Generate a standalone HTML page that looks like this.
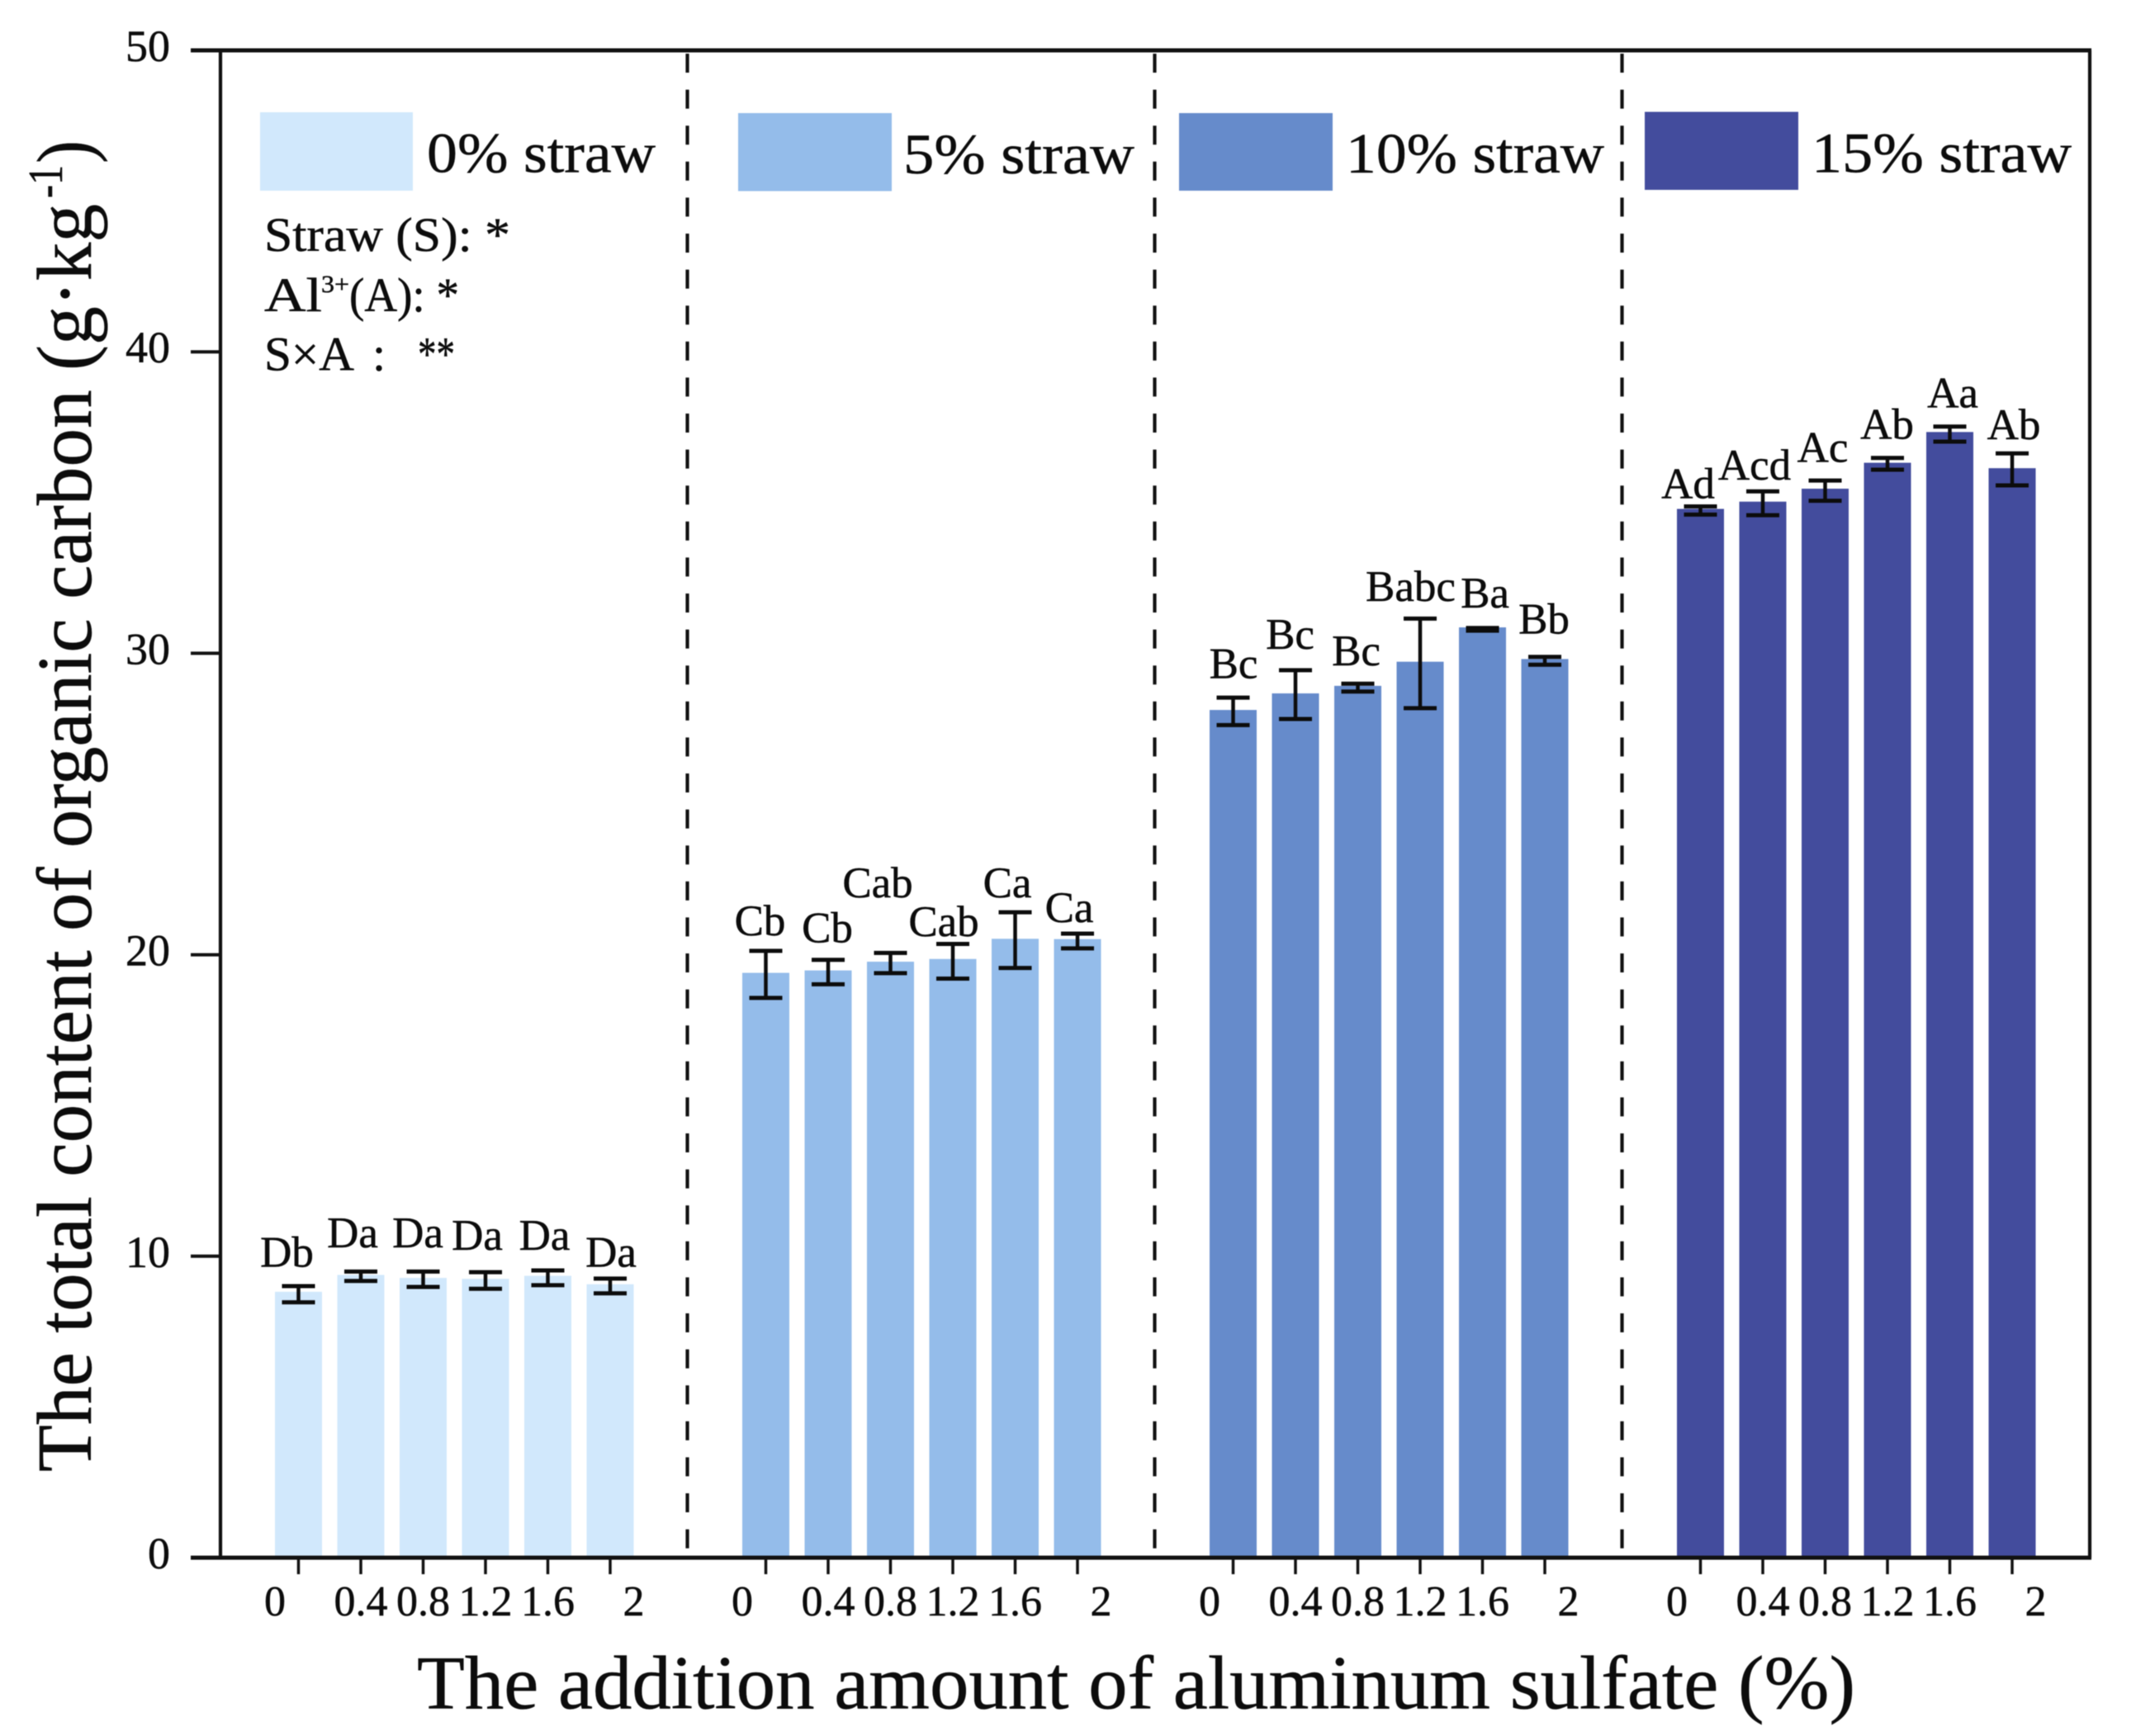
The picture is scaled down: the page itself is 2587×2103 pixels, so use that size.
<!DOCTYPE html>
<html lang="en">
<head>
<meta charset="utf-8">
<title>Total organic carbon by straw and aluminum sulfate addition</title>
<style>
html,body{margin:0;padding:0;background:#fff}
svg{display:block;filter:blur(0.6px)}
text{font-family:"Liberation Serif",serif;fill:#0c0c0c;stroke:#0c0c0c;stroke-width:.5px}
</style>
</head>
<body>
<svg id="chart" xmlns="http://www.w3.org/2000/svg" width="2587" height="2103" viewBox="0 0 2587 2103">
  <rect x="0" y="0" width="2587" height="2103" fill="#fff"/>
  <g id="bars"></g>
  <g id="errors"></g>
  <g id="dividers"></g>
  <g id="axes"></g>
  <g id="labels"></g>

  <g>
    <g>
      <rect x="315" y="136" width="185" height="95" fill="#D1E8FC"/>
      <text x="517" y="208.5" font-size="69" textLength="277" lengthAdjust="spacingAndGlyphs">0% straw</text>
    </g>
    <g>
      <rect x="894" y="137" width="186" height="94.5" fill="#94BCEA"/>
      <text x="1094" y="210" font-size="69" textLength="280" lengthAdjust="spacingAndGlyphs">5% straw</text>
    </g>
    <g>
      <rect x="1428" y="137" width="186" height="94" fill="#668BCB"/>
      <text x="1630" y="209" font-size="69" textLength="313" lengthAdjust="spacingAndGlyphs">10% straw</text>
    </g>
    <g>
      <rect x="1992" y="135.5" width="186" height="94.5" fill="#434C9D"/>
      <text x="2194" y="208.5" font-size="69" textLength="315" lengthAdjust="spacingAndGlyphs">15% straw</text>
    </g>
  </g>

  <g>
    <text x="320" y="304" font-size="58" textLength="298" lengthAdjust="spacingAndGlyphs">Straw (S): *</text>
    <text x="320" y="377" font-size="58" textLength="70" lengthAdjust="spacingAndGlyphs">Al</text>
    <text x="389" y="354" font-size="30" textLength="34" lengthAdjust="spacingAndGlyphs">3+</text>
    <text x="423" y="377" font-size="58" textLength="133" lengthAdjust="spacingAndGlyphs">(A): *</text>
    <text x="320" y="448.5" font-size="58" textLength="109" lengthAdjust="spacingAndGlyphs">S×A</text>
    <text x="451" y="448.5" font-size="58">:</text>
    <text x="506" y="448.5" font-size="58" textLength="45" lengthAdjust="spacingAndGlyphs">**</text>
  </g>

  <g>
    <text transform="translate(110 1783) rotate(-90)" font-size="94" textLength="1536" lengthAdjust="spacingAndGlyphs">The total content of organic carbon (g·kg</text>
    <text transform="translate(75 240) rotate(-90)" font-size="59" textLength="40" lengthAdjust="spacingAndGlyphs">-1</text>
    <text transform="translate(110 198) rotate(-90)" font-size="94" textLength="28" lengthAdjust="spacingAndGlyphs">)</text>
  </g>
  <text x="505" y="2069.5" font-size="92" textLength="1742" lengthAdjust="spacingAndGlyphs">The addition amount of aluminum sulfate (%)</text>
</svg>

<script>
// ---- chart data ----
const doseCategories = ['0', '0.4', '0.8', '1.2', '1.6', '2'];
const strawGroups = ['0-straw', '5-straw', '10-straw', '15-straw'];
const yTickValues = [0, 10, 20, 30, 40, 50];

const meanStraw0 = [8.82, 9.38, 9.28, 9.25, 9.35, 9.07];
const meanStraw5 = [19.40, 19.48, 19.77, 19.86, 20.53, 20.52];
const meanStraw10 = [28.12, 28.67, 28.92, 29.72, 30.86, 29.81];
const meanStraw15 = [34.79, 35.03, 35.46, 36.32, 37.34, 36.14];

const upperStraw0 = [9.01, 9.49, 9.49, 9.47, 9.53, 9.26];
const upperStraw5 = [20.13, 19.83, 20.06, 20.36, 21.41, 20.70];
const upperStraw10 = [28.53, 29.44, 28.99, 31.15, 30.84, 29.88];
const upperStraw15 = [34.87, 35.37, 35.73, 36.48, 37.52, 36.63];

const lowerStraw0 = [8.47, 9.18, 8.98, 8.92, 9.04, 8.77];
const lowerStraw5 = [18.57, 19.02, 19.39, 19.21, 19.56, 20.21];
const lowerStraw10 = [27.62, 27.82, 28.73, 28.18, 30.75, 29.62];
const lowerStraw15 = [34.60, 34.58, 35.06, 36.09, 37.02, 35.57];

const lettersStraw0 = ['Db', 'Da', 'Da', 'Da', 'Da', 'Da'];
const lettersStraw5 = ['Cb', 'Cb', 'Cab', 'Cab', 'Ca', 'Ca'];
const lettersStraw10 = ['Bc', 'Bc', 'Bc', 'Babc', 'Ba', 'Bb'];
const lettersStraw15 = ['Ad', 'Acd', 'Ac', 'Ab', 'Aa', 'Ab'];

// ---- label placement tweaks (layout only, not data) ----
const labelShiftX = [
  [-14, -10, -6.5, -10, -4, 1],
  [-7, -1, -15.5, -11, -9.5, -10],
  [0.5, -6.5, -2, -11.5, 3, -1],
  [-15, -10, -3, -0.5, 3.5, 2]
];
const labelGap = [
  [23.5, 29.4, 29.4, 27.2, 25, 14.3],
  [18.8, 21.1, 67.4, 9.5, 18.1, 14],
  [23.4, 25.9, 22.3, 21.4, 24.7, 28.1],
  [10.2, 14.3, 22.8, 23.1, 23.5, 17.5]
];

const means = [meanStraw0, meanStraw5, meanStraw10, meanStraw15];
const uppers = [upperStraw0, upperStraw5, upperStraw10, upperStraw15];
const lowers = [lowerStraw0, lowerStraw5, lowerStraw10, lowerStraw15];
const letters = [lettersStraw0, lettersStraw5, lettersStraw10, lettersStraw15];
const groupColors = ['#D1E8FC', '#94BCEA', '#668BCB', '#434C9D'];

// ---- axis functions ----
const plot = {left: 267, right: 2531, top: 61, bottom: 1887};
const yMax = 50;
const barWidth = 57;
const barStep = 75.5;
const groupStep = 566;
const firstBarLeft = 333;
const dividerFirst = 832.5;

function yScale(v) {
  return plot.bottom - (v / yMax) * (plot.bottom - plot.top);
}
function xCenter(group, i) {
  return firstBarLeft + group * groupStep + i * barStep + barWidth / 2;
}
function dividerX(n) {
  return dividerFirst + n * groupStep;
}

const NS = 'http://www.w3.org/2000/svg';
function make(tag, parent, attrs) {
  const el = document.createElementNS(NS, tag);
  for (const k in attrs) el.setAttribute(k, attrs[k]);
  parent.appendChild(el);
  return el;
}

const barsLayer = document.getElementById('bars');
const errorsLayer = document.getElementById('errors');
const dividersLayer = document.getElementById('dividers');
const axesLayer = document.getElementById('axes');
const labelsLayer = document.getElementById('labels');

// bars, error bars, significance letters, x ticks
strawGroups.forEach(function (groupName, g) {
  doseCategories.forEach(function (dose, i) {
    const cx = xCenter(g, i);
    const top = yScale(means[g][i]);
    const bar = make('rect', barsLayer, {x: cx - barWidth / 2, y: top, width: barWidth, height: plot.bottom - top, fill: groupColors[g]});
    
    

    const yHi = yScale(uppers[g][i]);
    const yLo = yScale(lowers[g][i]);
    const err = make('path', errorsLayer, {
      d: 'M' + (cx - 20) + ' ' + yHi + 'H' + (cx + 20) + 'M' + (cx - 20) + ' ' + yLo + 'H' + (cx + 20),
      stroke: '#0c0c0c', 'stroke-width': 5, fill: 'none'
    });
    
    
    const stem = make('line', errorsLayer, {x1: cx, x2: cx, y1: yHi, y2: yLo, stroke: '#0c0c0c', 'stroke-width': 4.5});
    
    

    const letter = make('text', labelsLayer, {x: cx + labelShiftX[g][i], y: yHi - labelGap[g][i], 'font-size': 53, 'text-anchor': 'middle'});
    letter.textContent = letters[g][i];
    
    

    const tick = make('line', axesLayer, {x1: cx, x2: cx, y1: plot.bottom, y2: plot.bottom + 20, stroke: '#111', 'stroke-width': 3.5});
    
    

    let labelX = cx;
    if (i === 0) labelX = cx - barWidth / 2;
    if (i === doseCategories.length - 1) labelX = cx + barWidth / 2;
    const tickLabel = make('text', axesLayer, {x: labelX, y: 1957, 'font-size': 52, 'text-anchor': 'middle'});
    tickLabel.textContent = dose;
    
    
  });
});

// dashed dividers between straw groups
for (let n = 0; n < strawGroups.length - 1; n++) {
  const div = make('line', dividersLayer, {x1: dividerX(n), x2: dividerX(n), y1: plot.top + 4, y2: plot.bottom, stroke: '#111', 'stroke-width': 4.2, 'stroke-dasharray': '23 20.6'});
  
  
}

// y ticks and labels
yTickValues.forEach(function (v) {
  const y = yScale(v);
  const tick = make('line', axesLayer, {x1: 231, x2: plot.left, y1: y, y2: y, stroke: '#111', 'stroke-width': 4});
  
  
  const label = make('text', axesLayer, {x: 206, y: y + 13, 'font-size': 54, 'text-anchor': 'end'});
  label.textContent = String(v);
  
  
});

// frame
const spineLeft = make('line', axesLayer, {x1: plot.left, x2: plot.left, y1: plot.top, y2: plot.bottom, stroke: '#111', 'stroke-width': 4.2});


const spineRight = make('line', axesLayer, {x1: plot.right, x2: plot.right, y1: plot.top, y2: plot.bottom, stroke: '#111', 'stroke-width': 4.2});


const spineTop = make('line', axesLayer, {x1: 231, x2: plot.right + 2, y1: plot.top, y2: plot.top, stroke: '#111', 'stroke-width': 5});


const spineBottom = make('line', axesLayer, {x1: 231, x2: plot.right + 2, y1: plot.bottom, y2: plot.bottom, stroke: '#111', 'stroke-width': 5});


</script>
</body>
</html>
